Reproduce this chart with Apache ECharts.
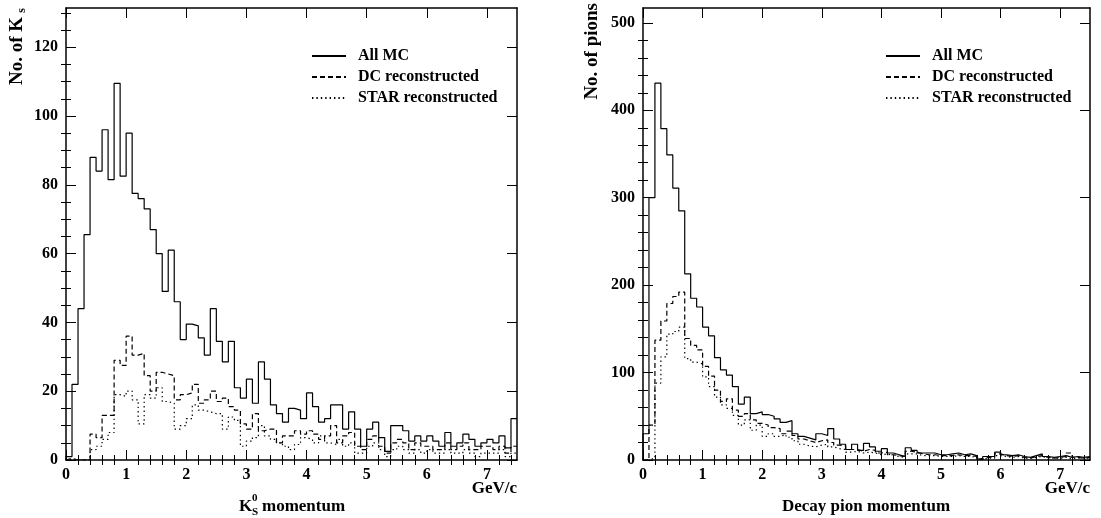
<!DOCTYPE html>
<html><head><meta charset="utf-8">
<script src="https://cdn.jsdelivr.net/npm/echarts@6/dist/echarts.min.js"></script>
<style>html,body{margin:0;padding:0;background:#fff}#c{width:1101px;height:518px}</style>
</head><body><div id="c"></div>
<script>
// ---------- data ----------
const binWidth = 0.1;           // GeV/c per bin, 75 bins from 0 to 7.5
const xTickLabels = [0, 1, 2, 3, 4, 5, 6, 7];
const kYTickLabels = [0, 20, 40, 60, 80, 100, 120];
const piYTickLabels = [0, 100, 200, 300, 400, 500];
const seriesNames = ['All MC', 'DC reconstructed', 'STAR reconstructed'];

// K0s momentum (left panel)
const kAll = [1, 22, 44, 65.5, 88, 84, 96, 81.5, 109.5, 82.5,
  95, 77.5, 76, 73, 67, 60, 49, 61, 46, 35,
  39.5, 39, 35.5, 30.5, 44, 34.5, 28.5, 34.5, 21, 18,
  23.5, 16.5, 28.5, 23.5, 16, 13.5, 11, 15, 14.5, 12,
  19.5, 15.5, 11, 12, 16, 16, 9, 14, 9, 4,
  9, 11, 6.5, 2.5, 10, 10, 8.5, 5.5, 7, 5.5,
  7, 5.5, 4, 8, 4, 5, 7.5, 6, 4, 5,
  6, 5, 7, 3.5, 12];
const kDC = [0.5, 0, 0, 0, 7.5, 6.5, 13, 13, 29, 27.5,
  36, 30.5, 31, 24.5, 20, 25.5, 25, 24.5, 17.5, 19,
  19.5, 22, 16.5, 17.5, 20, 17, 18, 15.5, 14.5, 10.5,
  9, 13.5, 8.5, 9, 9, 5, 7, 7, 8.5, 7.5,
  8.5, 7.5, 6, 7, 10, 5, 7, 8, 4, 3,
  6, 7, 4, 2, 5, 6, 5, 3, 5, 4,
  4, 3, 3, 5, 3, 4, 5, 3, 3, 4,
  4, 3, 4, 2, 4];
const kSTAR = [0, 0, 0, 0, 3, 4, 6, 8, 19, 18.5,
  20, 17.5, 10.5, 19, 18, 21, 17, 16.5, 9, 10,
  12, 16, 14.5, 14, 13.5, 13.5, 9, 12.5, 11.5, 4,
  5.5, 6.5, 10, 7, 6, 5, 4, 3, 4.5, 6.5,
  6, 5, 7, 5, 4.5, 6, 4, 5, 2, 2,
  4, 5, 3, 1, 3, 4, 3, 2, 3, 2,
  3, 2, 2, 3, 2, 2, 3, 2, 1, 2,
  2, 2, 3, 1, 2];

// decay pion momentum (right panel)
const piAll = [30, 300, 431, 379, 349, 311, 285, 213, 185, 175,
  152, 142, 117, 103, 97, 84, 64, 72, 53, 55,
  52, 50, 47, 43, 45, 30, 27, 25, 23, 30,
  28, 36, 24, 18, 12, 18, 11, 19, 15, 10,
  13, 8, 6, 4, 14, 11, 8, 8, 8, 6,
  6, 7, 8, 6, 7, 5, 1, 4, 4, 9,
  6, 5, 6, 4, 3, 5, 7, 4, 3, 4,
  5, 3, 4, 3, 4];
const piDC = [0, 40, 137, 159, 179, 187, 192, 139, 131, 126,
  107, 96, 80, 67, 70, 57, 50, 53, 46, 42,
  40, 37, 36, 30, 33, 28, 24, 22, 20, 22,
  23, 20, 17, 16, 12, 12, 10, 12, 11, 8,
  9, 6, 5, 4, 10, 9, 7, 6, 6, 5,
  5, 5, 6, 5, 5, 4, 1, 3, 3, 7,
  5, 4, 5, 3, 2, 4, 5, 3, 2, 3,
  4, 8, 3, 2, 3];
const piSTAR = [0, 2, 88, 118, 144, 147, 152, 116, 112, 110,
  95, 84, 72, 63, 59, 51, 40, 46, 34, 40,
  27, 30, 27, 29, 26, 22, 18, 16, 15, 17,
  18, 15, 13, 12, 9, 10, 8, 9, 8, 6,
  7, 5, 4, 3, 7, 7, 5, 5, 5, 4,
  4, 4, 5, 4, 4, 3, 1, 2, 2, 5,
  4, 3, 4, 2, 2, 3, 4, 2, 2, 2,
  3, 1, 2, 2, 2];

// ---------- helpers ----------
const FONT = "'Liberation Serif', 'DejaVu Serif', serif";
const BLACK = '#000';
const xMax = 7.5;
const kYMax = 131.4, piYMax = 517;

function histPoints(vals) {
  const pts = [[0, 0]];
  vals.forEach((v, i) => pts.push([+(i * binWidth).toFixed(3), v]));
  pts.push([+(vals.length * binWidth).toFixed(3), vals[vals.length - 1]]);
  return pts;
}
function range(a, b, step, skipEvery) {
  const out = [];
  for (let v = a; v <= b + 1e-9; v += step) {
    const r = Math.round(v * 1000) / 1000;
    if (skipEvery && Math.abs(r / skipEvery - Math.round(r / skipEvery)) < 1e-6) continue;
    out.push(r);
  }
  return out;
}
const xMinor = range(0, xMax, 0.2, 1);
const kYMinor = range(0, kYMax, 5, 20);
const piYMinor = range(0, piYMax, 20, 100);

const grids = [
  { left: 66, top: 8, width: 451, height: 452 },
  { left: 643, top: 8, width: 447, height: 452 }
];

const lineAx = { show: true, onZero: false, lineStyle: { color: BLACK, width: 1.5 } };
const noLine = { show: false };
const tickStyle = { color: BLACK, width: 1 };
const labelStyle = { color: BLACK, fontFamily: FONT, fontWeight: 'bold', fontSize: 16 };

const xAxes = [], yAxes = [];
function addAxes(g, yMax, yLabels, yMinor) {
  const xBase = xAxes.length, yBase = yAxes.length;
  const xCommon = { gridIndex: g, type: 'value', min: 0, max: xMax, splitLine: { show: false } };
  xAxes.push(Object.assign({}, xCommon, { position: 'bottom', axisLine: lineAx,
    axisTick: { show: true, inside: true, length: 10, customValues: xTickLabels, lineStyle: tickStyle },
    axisLabel: Object.assign({ show: true, margin: 7, customValues: xTickLabels }, labelStyle) }));
  xAxes.push(Object.assign({}, xCommon, { position: 'bottom', axisLine: noLine,
    axisTick: { show: true, inside: true, length: 5, customValues: xMinor, lineStyle: tickStyle },
    axisLabel: { show: false } }));
  xAxes.push(Object.assign({}, xCommon, { position: 'top', axisLine: lineAx,
    axisTick: { show: true, inside: true, length: 10, customValues: xTickLabels, lineStyle: tickStyle },
    axisLabel: { show: false } }));
  xAxes.push(Object.assign({}, xCommon, { position: 'top', axisLine: noLine,
    axisTick: { show: true, inside: true, length: 5, customValues: xMinor, lineStyle: tickStyle },
    axisLabel: { show: false } }));
  const yCommon = { gridIndex: g, type: 'value', min: 0, max: yMax, splitLine: { show: false } };
  yAxes.push(Object.assign({}, yCommon, { position: 'left', axisLine: lineAx,
    axisTick: { show: true, inside: true, length: 10, customValues: yLabels, lineStyle: tickStyle },
    axisLabel: Object.assign({ show: true, margin: 8, customValues: yLabels }, labelStyle) }));
  yAxes.push(Object.assign({}, yCommon, { position: 'left', axisLine: noLine,
    axisTick: { show: true, inside: true, length: 5, customValues: yMinor, lineStyle: tickStyle },
    axisLabel: { show: false } }));
  yAxes.push(Object.assign({}, yCommon, { position: 'right', axisLine: lineAx,
    axisTick: { show: true, inside: true, length: 10, customValues: yLabels, lineStyle: tickStyle },
    axisLabel: { show: false } }));
  yAxes.push(Object.assign({}, yCommon, { position: 'right', axisLine: noLine,
    axisTick: { show: true, inside: true, length: 5, customValues: yMinor, lineStyle: tickStyle },
    axisLabel: { show: false } }));
  return { x: xBase, y: yBase };
}
const axL = addAxes(0, kYMax, kYTickLabels, kYMinor);
const axR = addAxes(1, piYMax, piYTickLabels, piYMinor);

const styles = [
  { type: 'solid' },
  { type: [5, 3] },
  { type: [1.4, 3] }
];
function histSeries(name, vals, ax, i) {
  return {
    name, type: 'line', step: 'end', xAxisIndex: ax.x, yAxisIndex: ax.y,
    data: histPoints(vals), symbol: 'none', showSymbol: false, silent: true,
    animation: false,
    lineStyle: Object.assign({ color: BLACK, width: 1.2 }, styles[i]),
    itemStyle: { color: BLACK }
  };
}
const series = [
  histSeries(seriesNames[0], kAll, axL, 0),
  histSeries(seriesNames[1], kDC, axL, 1),
  histSeries(seriesNames[2], kSTAR, axL, 2),
  histSeries(seriesNames[0], piAll, axR, 0),
  histSeries(seriesNames[1], piDC, axR, 1),
  histSeries(seriesNames[2], piSTAR, axR, 2)
];

function legendAt(left) {
  return {
    left, top: 48, orient: 'vertical', selectedMode: false, padding: 0,
    itemWidth: 34, itemHeight: 14, itemGap: 5,
    data: seriesNames,
    itemStyle: { opacity: 0 },
    textStyle: { color: BLACK, fontFamily: FONT, fontWeight: 'bold', fontSize: 16, padding: [0, 0, 0, 7] }
  };
}

const titleFont = { fontFamily: FONT, fontWeight: 'bold', fill: BLACK };
function txt(x, y, text, size, align, vAlign, extra) {
  return Object.assign({ type: 'text', x, y, silent: true,
    style: Object.assign({ text, fontSize: size, textAlign: align || 'left', textVerticalAlign: vAlign || 'middle' }, titleFont) }, extra || {});
}

const graphic = [
  // y-axis titles (rotated)
  { type: 'group', x: 17, y: 8, rotation: Math.PI / 2, children: [
    txt(-9, 0, 'No. of K', 19, 'right', 'middle'),
    txt(0, 5, 's', 12, 'right', 'middle')
  ] },
  { type: 'group', x: 592, y: 3, rotation: Math.PI / 2, children: [
    txt(0, 0, 'No. of pions', 19, 'right', 'middle')
  ] },
  // units
  txt(517, 489, 'GeV/c', 17, 'right', 'middle'),
  txt(1090, 489, 'GeV/c', 17, 'right', 'middle'),
  // x titles
  txt(239, 507, 'K', 17, 'left', 'middle'),
  txt(252, 498, '0', 11, 'left', 'middle'),
  txt(252, 512, 'S', 11, 'left', 'middle'),
  txt(262, 507, 'momentum', 17, 'left', 'middle'),
  txt(866, 507, 'Decay pion momentum', 17, 'center', 'middle')
];

const chart = echarts.init(document.getElementById('c'), null, { renderer: 'canvas' });
chart.setOption({
  animation: false,
  backgroundColor: '#fff',
  grid: grids,
  xAxis: xAxes,
  yAxis: yAxes,
  legend: [legendAt(311), legendAt(885)],
  series,
  graphic
});
</script></body></html>
